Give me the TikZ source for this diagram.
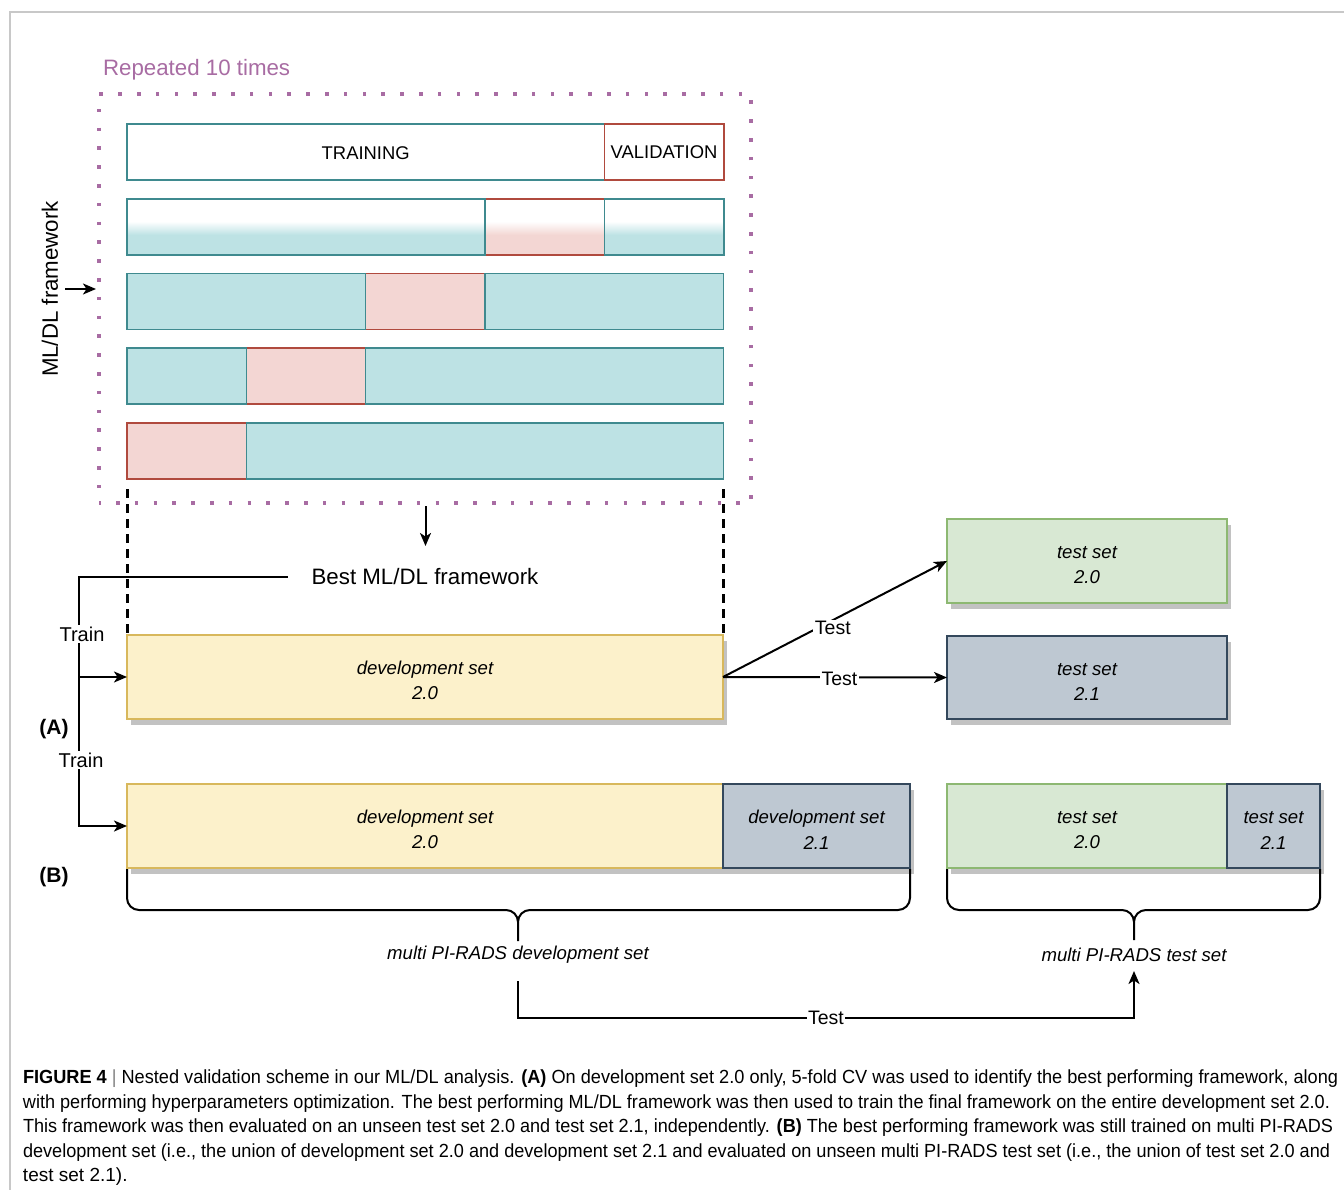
\documentclass[tikz,border=0pt]{standalone}
\usepackage{fontspec}
\usepackage{graphicx}
\setmainfont{Liberation Sans}
\usetikzlibrary{arrows.meta,shadows,calc}
\definecolor{tealF}{HTML}{BDE2E4}
\definecolor{tealS}{HTML}{3F8A8F}
\definecolor{redF}{HTML}{F3D6D3}
\definecolor{redS}{HTML}{B04A3E}
\definecolor{yelF}{HTML}{FCF1CB}
\definecolor{yelS}{HTML}{D8B85C}
\definecolor{grnF}{HTML}{D8E8D3}
\definecolor{grnS}{HTML}{8DB872}
\definecolor{bluF}{HTML}{BEC8D2}
\definecolor{bluS}{HTML}{34485C}
\definecolor{purp}{HTML}{A86CA3}
\definecolor{frameG}{HTML}{C8C8C8}
\pgfdeclareverticalshading{tealgrad}{100bp}{color(0bp)=(tealF); color(43bp)=(tealF); color(55bp)=(white); color(100bp)=(white)}
\pgfdeclareverticalshading{redgrad}{100bp}{color(0bp)=(redF); color(43bp)=(redF); color(55bp)=(white); color(100bp)=(white)}
\newcommand\myfs[2]{\fontsize{#1}{#2}\selectfont}
\newcommand\topstrut{\rule{0pt}{20.5pt}}
\begin{document}
\begin{tikzpicture}[x=1pt,y=-1pt,
  every node/.style={inner sep=0pt, outer sep=0pt},
  cell/.style={rectangle, anchor=north west, line width=1.6pt, minimum height=56pt},
  tcell/.style={cell, draw=tealS, fill=tealF},
  rcell/.style={cell, draw=redS, fill=redF},
  tgcell/.style={cell, draw=tealS, shading=tealgrad},
  rgcell/.style={cell, draw=redS, shading=redgrad},
  setbox/.style={rectangle, anchor=north west, line width=1.8pt, minimum height=84pt, align=center,
     font=\myfs{18.6}{25.5}\itshape,
     drop shadow={shadow xshift=3.5pt,shadow yshift=-5.5pt,fill=black!24,opacity=1}},
  yel/.style={setbox, draw=yelS, fill=yelF},
  grn/.style={setbox, draw=grnS, fill=grnF},
  blu/.style={setbox, draw=bluS, fill=bluF},
  line/.style={line width=2pt, black},
  arr/.style={line, -{Stealth[length=13pt,width=11pt,inset=3.5pt]}},
  lbl/.style={fill=white, inner sep=1.5pt, font=\myfs{19.5}{22}},
  brace/.style={line width=2pt, black},
  caption/.style={anchor=base west, font=\myfs{19}{24}},
  dashv/.style={line width=3pt, black, dash pattern=on 9pt off 6pt},
]
\useasboundingbox (0,0) rectangle (1344,1190);
% outer frame
\draw[frameG, line width=2pt] (10,1190) -- (10,12) -- (1344,12);

% repeated frame
\node[anchor=base west, text=purp, font=\myfs{22.3}{26}] (rept) at (103,75.5) {Repeated 10 times};
\node[rectangle, anchor=north west, draw=purp, line width=3.5pt, dash pattern=on 3.5pt off 15.3pt, dash phase=1.75pt,
      minimum width=652pt, minimum height=409pt] (rep) at (99,94) {};

% row 1
\node[cell, draw=tealS, fill=white, minimum width=477.4pt, font=\myfs{18.4}{22}, text depth=0pt, text height=11pt] (train) at (127,124) {\raisebox{-2pt}{TRAINING}};
\node[cell, draw=redS, fill=white, minimum width=119.3pt, font=\myfs{18.4}{22}] (valid) at (604.4,124) {\raisebox{-2pt}{VALIDATION}};
% row 2
\node[rgcell, minimum width=119.3pt] (r2b) at (485,199) {};
\node[tgcell, minimum width=358pt] (r2a) at (127,199) {};
\node[tgcell, minimum width=119.3pt] (r2c) at (604.4,199) {};
% row 3
\node[rcell, minimum width=119.3pt] (r3b) at (365.6,273.5) {};
\node[tcell, minimum width=238.6pt] (r3a) at (127,273.5) {};
\node[tcell, minimum width=238.6pt] (r3c) at (485,273.5) {};
% row 4
\node[rcell, minimum width=119.3pt] (r4b) at (246.3,348) {};
\node[tcell, minimum width=119.3pt] (r4a) at (127,348) {};
\node[tcell, minimum width=358pt] (r4c) at (365.6,348) {};
% row 5
\node[rcell, minimum width=119.3pt] (r5a) at (127,423) {};
\node[tcell, minimum width=477.3pt] (r5b) at (246.3,423) {};

% ML/DL framework side label
\node[rotate=90, font=\myfs{22.3}{26}] (mldl) at (50,289) {ML/DL framework};
\coordinate (m1) at (65,289);
\coordinate (m2) at (96,289);
\draw[arr] (m1) -- (m2);

% best framework
\node[font=\myfs{22.3}{26}] (best) at (425,577) {Best ML/DL framework};
\coordinate (d1) at (425.5,506);
\coordinate (d2) at (425.5,546);
\draw[arr] (d1) -- (d2);

% dashed verticals
\coordinate (v1a) at (127,489); \coordinate (v1b) at (127,634);
\coordinate (v2a) at (723,489); \coordinate (v2b) at (723,634);
\draw[dashv] (v1a) -- (v1b);
\draw[dashv] (v2a) -- (v2b);

% set boxes (A)
\node[yel, minimum width=596pt] (devA) at (127,635) {\topstrut development set\\2.0};
\node[grn, minimum width=280pt] (t20) at (947,519) {\topstrut test set\\2.0};
\node[blu, minimum width=280pt, minimum height=83pt] (t21) at (947,636) {\topstrut test set\\2.1};

% set boxes (B)
\node[yel, minimum width=596pt] (devB0) at (127,784) {\topstrut development set\\2.0};
\node[blu, minimum width=187pt] (devB1) at (723,784) {\topstrut development set\\2.1};
\node[grn, minimum width=280pt] (tB0) at (947,784) {\topstrut test set\\2.0};
\node[blu, minimum width=93pt] (tB1) at (1227,784) {\topstrut test set\\2.1};

% train connectors
\coordinate (ta) at (79,677);
\coordinate (tb) at (79,826);
\draw[arr] ([xshift=-24pt]best.west) -| (tb) -- (devB0.west);
\draw[arr] (ta) -- (devA.west);
\node[lbl, font=\myfs{20}{22}] (train1) at (82,634) {Train};
\node[lbl, font=\myfs{20}{22}] (train2) at (81,760) {Train};

% test connectors
\draw[arr] (devA.east) -- node[lbl, pos=0.49, yshift=-8pt] (testd) {Test} (t20.west);
\draw[arr] (devA.east) -- node[lbl, pos=0.52, yshift=-2pt] (testh) {Test} (t21.west);

% panel labels
\node[font=\myfs{21}{24}\bfseries] (labA) at (54,729) {(A)};
\node[font=\myfs{21}{24}\bfseries] (labB) at (54,877) {(B)};

% braces
\draw[brace] (127,869) -- (127,898) to[out=-90,in=180] (139,910) -- (506,910) to[out=0,in=90] (518,922) -- (518,941);
\draw[brace] (910,869) -- (910,898) to[out=-90,in=0] (898,910) -- (530,910) to[out=180,in=90] (518,922);
\draw[brace] (947,869) -- (947,898) to[out=-90,in=180] (959,910) -- (1122,910) to[out=0,in=90] (1134,922) -- (1134,940);
\draw[brace] (1320,869) -- (1320,898) to[out=-90,in=0] (1308,910) -- (1146,910) to[out=180,in=90] (1134,922);

\node[font=\myfs{18.6}{22}\itshape] (multiD) at (518,955) {multi PI-RADS development set};
\node[font=\myfs{18.6}{22}\itshape] (multiT) at (1134,955) {multi PI-RADS test set};

\coordinate (b0) at (518,981);
\coordinate (b1) at (518,1018);
\coordinate (b2) at (1134,1018);
\coordinate (b3) at (1134,971);
\draw[arr] (b0) -- (b1) -- node[lbl, pos=0.5] (testb) {Test} (b2) -- (b3);

% caption
\node[caption] (c1) at (23,1083.5) {\resizebox{1315pt}{\height}{\textbf{FIGURE 4} \textcolor{gray}{|} Nested validation scheme in our ML/DL analysis. \textbf{(A)} On development set 2.0 only, 5-fold CV was used to identify the best performing framework, along}};
\node[caption] (c2) at (23,1108) {\resizebox{1307pt}{\height}{with performing hyperparameters optimization. The best performing ML/DL framework was then used to train the final framework on the entire development set 2.0.}};
\node[caption] (c3) at (23,1132.7) {\resizebox{1310pt}{\height}{This framework was then evaluated on an unseen test set 2.0 and test set 2.1, independently. \textbf{(B)} The best performing framework was still trained on multi PI-RADS}};
\node[caption] (c4) at (23,1157.2) {\resizebox{1307pt}{\height}{development set (i.e., the union of development set 2.0 and development set 2.1 and evaluated on unseen multi PI-RADS test set (i.e., the union of test set 2.0 and}};
\node[caption] (c5) at (23,1181.5) {test set 2.1).};
\end{tikzpicture}
\end{document}
